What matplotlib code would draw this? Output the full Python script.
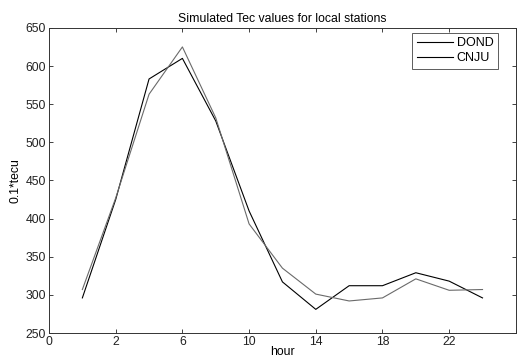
import numpy as np
import matplotlib
matplotlib.use("Agg")
import matplotlib.pyplot as plt

plt.rcParams['font.family'] = ['Liberation Sans', 'DejaVu Sans']

# samples every 2 hours, plotted by sample index
idx = np.arange(1, 14)
dond = [296, 425, 583, 610, 528, 410, 317, 281, 312, 312, 329, 318, 296]
cnju = [307, 427, 563, 625, 532, 393, 335, 301, 292, 296, 321, 306, 307]
xtick_labels = ['0', '2', '6', '10', '14', '18', '22', '']
yticks = [250, 300, 350, 400, 450, 500, 550, 600, 650]

fig = plt.figure(figsize=(5.17, 3.59), dpi=100)
ax = fig.add_axes([0.0948, 0.0724, 0.903, 0.85])

ax.plot(idx, dond, color='black', lw=0.8, label='DOND')
ax.plot(idx, cnju, color='#6a6a6a', lw=0.8, label='CNJU')

ax.set_xlim(0, 14)
ax.set_ylim(250, 650)
ax.set_xticks(np.arange(0, 15, 2))
ax.set_xticklabels(xtick_labels)
ax.set_yticks(yticks)
ax.tick_params(direction='in', top=True, right=True, labelsize=8.8, length=3, width=0.6, pad=2,
               colors='#222222')
for s in ax.spines.values():
    s.set_linewidth(0.7)
    s.set_color('#333333')

ax.set_title('Simulated Tec values for local stations', fontsize=8.8, pad=4)
ax.set_xlabel('hour', fontsize=8.8, labelpad=-1)
ax.set_ylabel('0.1*tecu', fontsize=8.8, labelpad=3)

leg = ax.legend(loc='upper right', bbox_to_anchor=(0.9615, 0.984), fontsize=9, frameon=True,
                fancybox=False, borderaxespad=0, handlelength=2.9, handletextpad=0.3,
                borderpad=0.35, labelspacing=0.25)
leg.get_frame().set_edgecolor('#333333')
leg.get_frame().set_linewidth(0.7)
for h in leg.get_lines():
    h.set_color('black')

fig.savefig('out.png', dpi=100)
